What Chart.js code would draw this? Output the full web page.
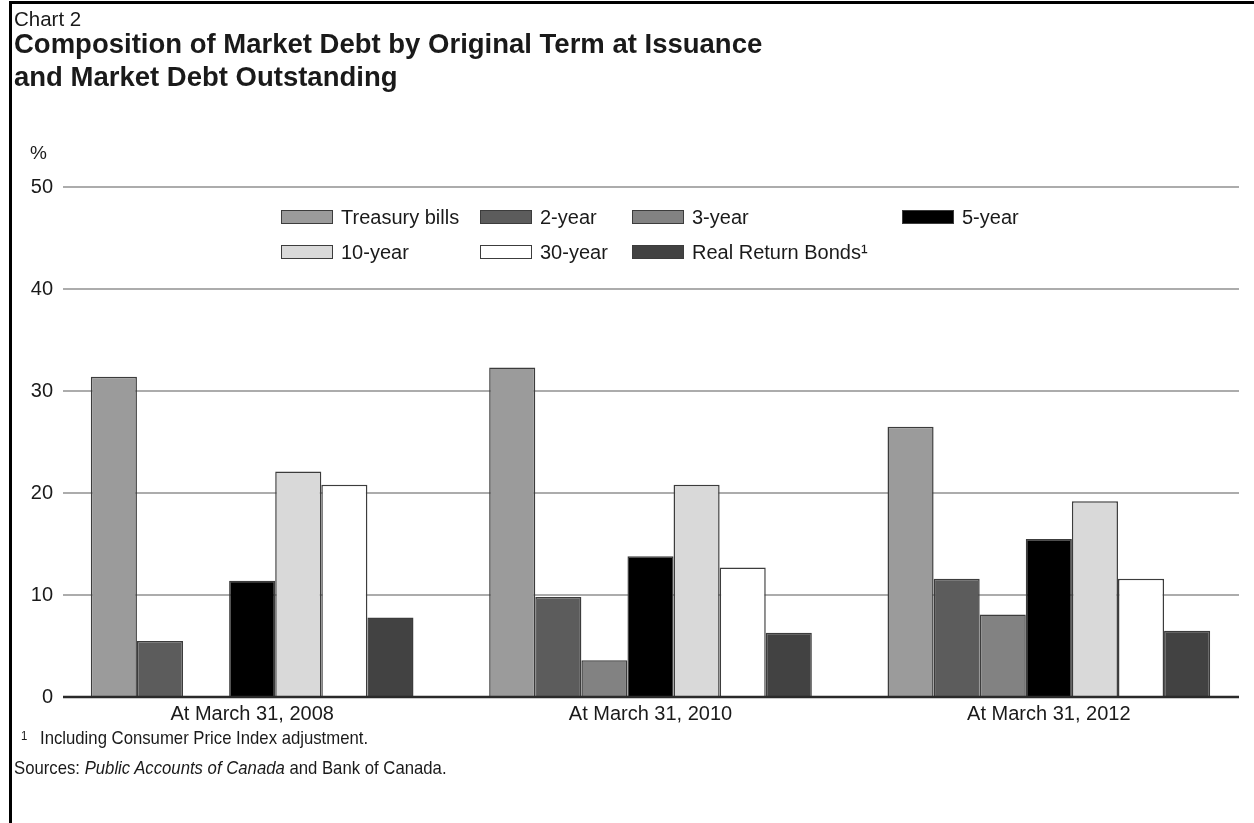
<!DOCTYPE html>
<html>
<head>
<meta charset="utf-8">
<script src="https://cdn.jsdelivr.net/npm/chart.js@4/dist/chart.umd.min.js"></script>
<style>
  html, body { margin: 0; padding: 0; background: #fff; }
  body { width: 1254px; height: 823px; position: relative; overflow: hidden;
         font-family: "Liberation Sans", Arial, sans-serif; color: #1a1a1a; }
  #frame { position: absolute; left: 9px; top: 1px; width: 1260px; height: 840px;
           border-left: 3px solid #000; border-top: 3px solid #000; }
  canvas { position: absolute; left: 0; top: 0; }
  .txt { position: absolute; white-space: nowrap; }
  #chartNo { left: 14px; top: 8px; font-size: 20.5px; line-height: 21px; }
  .title { left: 14px; font-size: 27.5px; line-height: 28px; font-weight: bold; transform-origin: left center; }
  #pct { left: 30px; top: 143px; font-size: 19px; line-height: 19px; }
  .leg { position: absolute; display: flex; align-items: center; font-size: 20px; height: 20px; }
  .sw { width: 50px; height: 12px; border: 1.5px solid #3c3c3c; margin-right: 8px; }
  .note { font-size: 19px; line-height: 19px; transform: scaleX(0.88); transform-origin: left center; }
</style>
</head>
<body>
<div id="frame"></div>
<canvas id="debtChart" width="1254" height="823"></canvas>
<div class="txt" id="chartNo">Chart 2</div>
<div class="txt title" style="top:30px">Composition of Market Debt by Original Term at Issuance</div>
<div class="txt title" style="top:63px">and Market Debt Outstanding</div>
<div class="txt" id="pct">%</div>
<div id="legend"></div>
<div class="txt note" style="left:21px; top:729px; font-size:13px; line-height:13px">1</div>
<div class="txt note" style="left:40px; top:728px">Including Consumer Price Index adjustment.</div>
<div class="txt note" style="left:14px; top:758px">Sources: <i>Public Accounts of Canada</i> and Bank of Canada.</div>
<script>
// data (%)
const categories = ['At March 31, 2008', 'At March 31, 2010', 'At March 31, 2012'];
const seriesNames = ['Treasury bills', '2-year', '3-year', '5-year', '10-year', '30-year', 'Real Return Bonds\u00b9'];
const treasuryBills = [31.4, 32.3, 26.5];
const twoYear = [5.5, 9.8, 11.6];
const threeYear = [null, 3.6, 8.1];
const fiveYear = [11.4, 13.8, 15.5];
const tenYear = [22.1, 20.8, 19.2];
const thirtyYear = [20.8, 12.7, 11.6];
const realReturnBonds = [7.8, 6.3, 6.5];
const yTicks = [0, 10, 20, 30, 40, 50];

const fills = ['#9b9b9b', '#5c5c5c', '#828282', '#000000', '#d9d9d9', '#ffffff', '#424242'];
const series = [treasuryBills, twoYear, threeYear, fiveYear, tenYear, thirtyYear, realReturnBonds];

// legend slots (left of swatch, row centre)
const legendSlots = [[281, 217], [480, 217], [632, 217], [902, 217], [281, 252], [480, 252], [632, 252]];
const legend = document.getElementById('legend');
seriesNames.forEach((name, i) => {
    const item = document.createElement('div');
    item.className = 'leg';
    item.style.left = legendSlots[i][0] + 'px';
    item.style.top = (legendSlots[i][1] - 10) + 'px';
    item.innerHTML = `<span class="sw" style="background:${fills[i]}"></span><span>${name}</span>`;
    legend.appendChild(item);
});

// gridlines span a bit less than the category band, zero line drawn over the bars
const ruledGrid = {
    id: 'ruledGrid',
    beforeDatasetsDraw(chart) {
        const { ctx, scales: { y } } = chart;
        ctx.save();
        ctx.strokeStyle = '#acacac';
        ctx.lineWidth = 2;
        yTicks.forEach(v => {
            if (v === 0) return;
            const py = Math.round(y.getPixelForValue(v));
            ctx.beginPath();
            ctx.moveTo(63, py);
            ctx.lineTo(1239, py);
            ctx.stroke();
        });
        ctx.restore();
    },
    afterDatasetsDraw(chart) {
        const { ctx, scales: { y } } = chart;
        const py = Math.round(y.getPixelForValue(0));
        ctx.save();
        ctx.strokeStyle = '#2a2a2a';
        ctx.lineWidth = 2.5;
        ctx.beginPath();
        ctx.moveTo(63, py);
        ctx.lineTo(1239, py);
        ctx.stroke();
        ctx.restore();
    }
};

new Chart(document.getElementById('debtChart'), {
    type: 'bar',
    data: {
        labels: categories,
        datasets: series.map((data, i) => ({
            label: seriesNames[i],
            data: data,
            backgroundColor: fills[i],
            borderColor: '#3c3c3c',
            borderWidth: 1.5,
            barPercentage: 1.0,
            categoryPercentage: 0.81
        }))
    },
    options: {
        responsive: false,
        animation: false,
        layout: { padding: { top: 187, right: 6, bottom: 0, left: 0 } },
        plugins: { legend: { display: false }, tooltip: { enabled: false } },
        scales: {
            x: {
                grid: { display: false, drawTicks: false },
                border: { display: false },
                ticks: {
                    color: '#1a1a1a', padding: 5, maxRotation: 0, autoSkip: false,
                    font: { family: 'Liberation Sans', size: 20 }
                },
                afterFit(scale) { scale.height = 126; }
            },
            y: {
                min: 0, max: 50,
                grid: { display: false, drawTicks: false },
                border: { display: false },
                afterBuildTicks(scale) { scale.ticks = yTicks.map(v => ({ value: v })); },
                ticks: {
                    color: '#1a1a1a', padding: 0,
                    font: { family: 'Liberation Sans', size: 20 }
                },
                afterFit(scale) { scale.width = 53; }
            }
        }
    },
    plugins: [ruledGrid]
});
</script>
</body>
</html>
